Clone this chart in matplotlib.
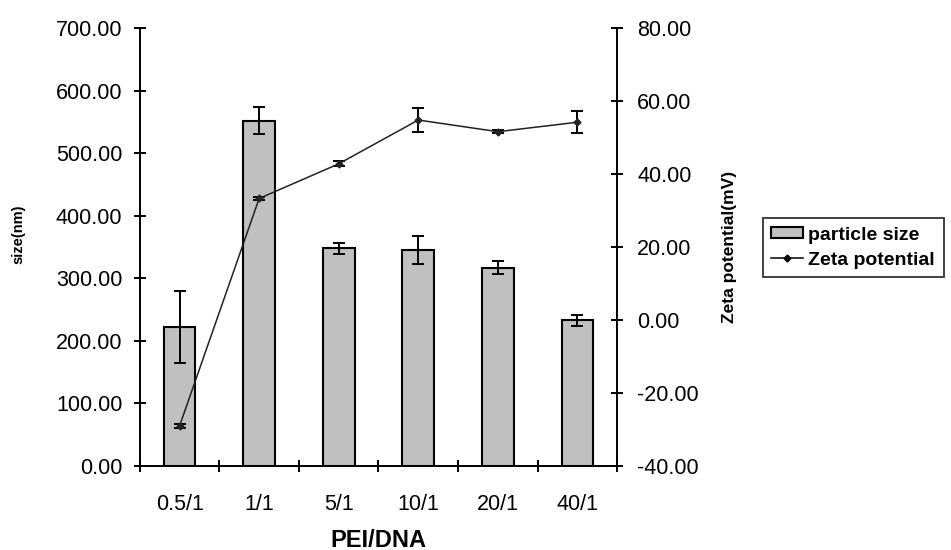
import matplotlib
matplotlib.use("Agg")
import matplotlib.pyplot as plt
from matplotlib.lines import Line2D
from matplotlib.patches import Patch
import numpy as np

categories = ["0.5/1", "1/1", "5/1", "10/1", "20/1", "40/1"]
size_nm = [222, 552, 348, 345, 317, 233]
size_err = [57, 22, 9, 22, 10, 9]
zeta_mv = [-29.0, 33.3, 42.8, 54.8, 51.6, 54.2]
zeta_err = [0.6, 0.5, 0.7, 3.2, 0.4, 3.0]

plt.rcParams['font.family'] = ['Liberation Sans', 'DejaVu Sans']

fig = plt.figure(figsize=(9.51, 5.5), dpi=100)
ax = fig.add_axes([0.147, 0.1527, 0.502, 0.7963])
x = np.arange(len(categories))

ax.bar(x, size_nm, width=0.4, color='#c0c0c0', edgecolor='black', linewidth=1.5,
       yerr=size_err, error_kw=dict(ecolor='black', elinewidth=1.4, capsize=4.5, capthick=1.4),
       zorder=2)
ax.set_ylim(0, 700)
ax.set_xlim(-0.5, 5.5)
ax.set_yticks(np.arange(0, 701, 100))
ax.set_yticklabels([f"{v:.2f}" for v in np.arange(0, 701, 100)])
ax.set_xticks(x)
ax.set_xticklabels(categories)
ax.set_xticks(np.arange(-0.5, 5.6, 1), minor=True)
ax.tick_params(axis='x', which='major', length=0, labelsize=15.5, pad=20)
ax.tick_params(axis='x', which='minor', direction='inout', length=9, width=1.4)
ax.tick_params(axis='y', direction='inout', length=9, width=1.4, labelsize=15.5, pad=8)
for s in ['top', 'right']:
    ax.spines[s].set_visible(False)
for s in ['left', 'bottom']:
    ax.spines[s].set_linewidth(1.4)
ax.set_ylabel('size(nm)', fontsize=10.5, fontweight='bold')
ax.yaxis.set_label_coords(-0.24, 0.53)
ax.set_xlabel('PEI/DNA', fontsize=17, fontweight='bold')
ax.xaxis.set_label_coords(0.5, -0.143)

ax2 = ax.twinx()
ax2.errorbar(x, zeta_mv, yerr=zeta_err, color='#222222', linewidth=1.1, marker='D',
             markersize=3.5, ecolor='black', elinewidth=1.4, capsize=4.5, capthick=1.4,
             zorder=3)
ax2.set_ylim(-40, 80)
ax2.set_yticks(np.arange(-40, 81, 20))
ax2.set_yticklabels([f"{v:.2f}" for v in np.arange(-40, 81, 20)])
ax2.tick_params(axis='y', direction='inout', length=9, width=1.4, labelsize=15.5, pad=10)
for s in ['top', 'left', 'bottom']:
    ax2.spines[s].set_visible(False)
ax2.spines['right'].set_linewidth(1.4)
ax2.set_ylabel('Zeta potential(mV)', fontsize=12.5, fontweight='bold')
ax2.yaxis.set_label_coords(1.22, 0.5)

handles = [Patch(facecolor='#c0c0c0', edgecolor='black', linewidth=1.5),
           Line2D([], [], color='black', linewidth=1.1, marker='D', markersize=3.5)]
labels = ['particle size', 'Zeta potential']
leg = fig.legend(handles, labels, loc='upper left', bbox_to_anchor=(0.802, 0.6036),
                 prop={'weight': 'bold', 'size': 14}, frameon=True,
                 fancybox=False, edgecolor='black', handlelength=1.6, handleheight=0.5,
                 handletextpad=0.3, borderpad=0.45, labelspacing=0.4, borderaxespad=0)
leg.get_frame().set_linewidth(1.3)

fig.savefig('out.png', dpi=100)
